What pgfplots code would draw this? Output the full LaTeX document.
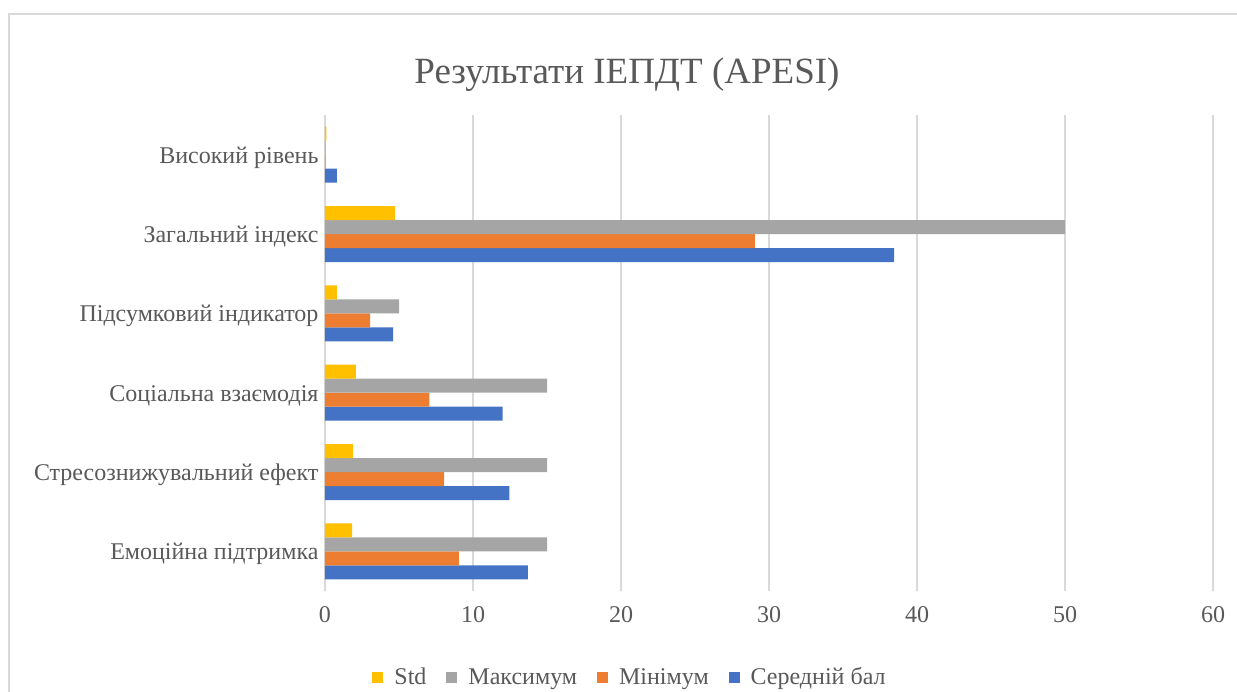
\documentclass[border=0pt]{standalone}
\usepackage{fontspec}
\setmainfont{Liberation Serif}
\usepackage{pgfplots}
\pgfplotsset{compat=1.18}
\definecolor{cMean}{HTML}{4472C4}
\definecolor{cMin}{HTML}{ED7D31}
\definecolor{cMax}{HTML}{A5A5A5}
\definecolor{cStd}{HTML}{FFC000}
\definecolor{txt}{HTML}{595959}
\definecolor{grd}{HTML}{D9D9D9}
\begin{document}
\begin{tikzpicture}
\useasboundingbox (0pt,0pt) rectangle (1237pt,691pt);
\fill[white] (0pt,0pt) rectangle (1237pt,691pt);
\draw[grd, line width=1.5pt] (9pt,-5pt) -- (9pt,677pt) -- (1245pt,677pt);
\node[text=txt, font=\fontsize{37}{44}\selectfont] at (627pt,616pt) {Результати ІЕПДТ (APESI)};
\begin{axis}[
  at={(325pt,100pt)}, anchor=south west,
  scale only axis, width=888pt, height=476pt,
  xbar, bar width=14pt,
  xmin=0, xmax=60, xtick={0,10,...,60},
  ymin=-0.5, ymax=5.5, ytick={0,...,5},
  yticklabels={Емоційна підтримка, Стресознижувальний ефект, Соціальна взаємодія, Підсумковий індикатор, Загальний індекс, Високий рівень},
  axis line style={draw=none},
  major tick length=0pt,
  xmajorgrids, grid style={grd, line width=1.3pt},
  /pgf/number format/assume math mode=true,
  tick label style={text=txt, font=\fontsize{24}{28}\selectfont},
  xticklabel style={yshift=-12pt},
  yticklabel style={xshift=-3pt, yshift=-3pt},
  legend style={draw=none, at={(0.3435,-0.1807)}, anchor=center, legend columns=4,
    font=\fontsize{24}{28}\selectfont, text=txt,
    /tikz/every odd column/.append style={column sep=9pt},
    /tikz/every even column/.append style={column sep=18pt}},
  legend image code/.code={\fill[#1] (0pt,-5.5pt) rectangle (11pt,5.5pt);},
  reverse legend,
]
\addplot[fill=cMean, draw=none, bar shift=-21pt] coordinates {(13.7,0) (12.45,1) (12.0,2) (4.6,3) (38.45,4) (0.8,5)};
\addlegendentry{Середній бал}
\addplot[fill=cMin, draw=none, bar shift=-7pt] coordinates {(9.05,0) (8.05,1) (7.05,2) (3.05,3) (29.05,4) (0.05,5)};
\addlegendentry{Мінімум}
\addplot[fill=cMax, draw=none, bar shift=7pt] coordinates {(15,0) (15,1) (15,2) (5,3) (50,4) (0.05,5)};
\addlegendentry{Максимум}
\addplot[fill=cStd, draw=none, bar shift=21pt] coordinates {(1.83,0) (1.9,1) (2.08,2) (0.8,3) (4.74,4) (0.1,5)};
\addlegendentry{Std}
\end{axis}
\end{tikzpicture}
\end{document}
